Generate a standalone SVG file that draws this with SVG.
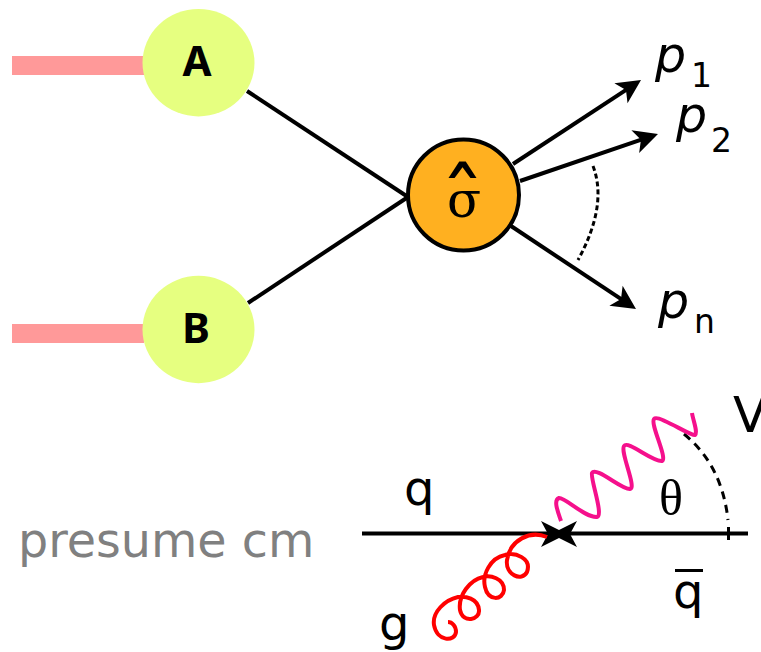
<svg xmlns="http://www.w3.org/2000/svg" width="761" height="652" viewBox="0 0 761 652">
<style>
text{font-family:"DejaVu Sans",sans-serif;fill:#000}
.lbl{font-size:48px}
.p{font-size:49px;font-style:oblique}
.sub{font-size:33px}
.in{font-family:"Noto Sans",sans-serif;font-size:42px;font-weight:bold;text-anchor:middle}
.ln{fill:none;stroke:#000;stroke-width:4}
.dash{fill:none;stroke:#000;stroke-width:3}
.beam{fill:#ff9999}
.had{fill:#e6ff80}
</style>
<defs>
<marker id="ah" markerUnits="userSpaceOnUse" markerWidth="24" markerHeight="24" viewBox="-24 -12 24 24" refX="-6" refY="0" orient="auto" overflow="visible">
<path d="M0,0L-24,-12L-18,0L-24,12Z" fill="#000"/>
</marker>
</defs>
<rect width="761" height="652" fill="#fff"/>
<g id="connectors">
<rect class="beam" x="12" y="56" width="132" height="19"/>
<rect class="beam" x="12" y="324" width="132" height="19"/>
<path class="ln" d="M247,91L408,197"/>
<path class="ln" d="M248,303L408,197"/>
<path class="ln" marker-end="url(#ah)" d="M513,164L636,83.3"/>
<path class="ln" marker-end="url(#ah)" d="M520,181L652.3,135.9"/>
<path class="ln" marker-end="url(#ah)" d="M511,226L631,305.7"/>
<path class="dash" stroke-dasharray="5 3" d="M593,166Q608,205 578,260"/>
<path class="ln" d="M362,533.5H748"/>
<path d="M728.5,527V540" fill="none" stroke="#000" stroke-width="3"/>
<path d="M541,521L559,530L577,521L570,534L577,547L559,538L541,547L548,534Z" fill="#000"/>
<path class="dash" stroke-dasharray="8 6" d="M684,434Q722,465 728,520"/>
<path fill="none" stroke="#f5108c" stroke-width="4" d="M561,521C558,512 553,500 559,498C565,497 585,518 597,517C604,516 590,478 592,473C596,466 622,490 630,489C637,488 620,452 624,446C628,440 652,462 662,461C668,459 650,424 654,419C658,414 690,436 695,435C698,432 693,420 692,413"/>
<path fill="none" stroke="#ff0000" stroke-width="4" d="M547,537C530,530 510,540 507,560C505,575 522,582 527,572C532,558 515,552 505,555C490,558 482,575 485,587C488,602 503,600 504,590C504,578 490,575 483,577C470,580 458,595 460,610C463,624 480,620 479,610C478,598 465,596 458,597C445,600 432,612 434,625C437,642 455,642 456,632C456,626 452,622 448,622"/>
</g>
<g id="hadron-a"><ellipse class="had" cx="198.5" cy="62.7" rx="56" ry="53.7"/><text class="in" x="197" y="76">A</text></g>
<g id="hadron-b"><ellipse class="had" cx="198.5" cy="329.5" rx="56" ry="53.7"/><text class="in" x="196" y="343">B</text></g>
<g id="sigma"><circle cx="463.5" cy="195" r="55.5" fill="#ffb020" stroke="#000" stroke-width="4"/>
<text x="447" y="217" style="font-family:'DejaVu Serif',serif;font-size:50px">σ</text>
<text x="440" y="234" style="font-size:90px">ˆ</text></g>
<g id="p1"><text class="p" x="655" y="72">p</text><text class="sub" x="691" y="87">1</text></g>
<g id="p2"><text class="p" x="676" y="132">p</text><text class="sub" x="711" y="152">2</text></g>
<g id="pn"><text class="p" x="658" y="318">p</text><text class="sub" x="694" y="333">n</text></g>
<text id="presume" x="18" y="557" style="font-size:47.6px;fill:#808080">presume cm</text>
<text id="q" class="lbl" x="404" y="505">q</text>
<g id="qbar"><text class="lbl" x="673" y="608">q</text><rect x="675" y="569" width="28" height="3"/></g>
<text id="g" class="lbl" x="379" y="640">g</text>
<text id="theta" x="659" y="515" style="font-family:'Liberation Serif',serif;font-size:50px">θ</text>
<text id="V" x="733" y="432" style="font-size:50px">V</text>
</svg>
